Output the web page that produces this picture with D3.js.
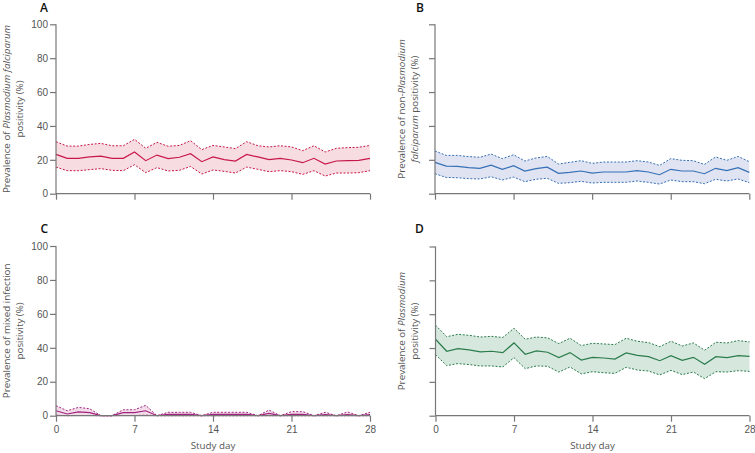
<!DOCTYPE html>
<html>
<head>
<meta charset="utf-8">
<script src="https://cdn.jsdelivr.net/npm/d3@7"></script>
<style>
  body { margin: 0; background: #fff; }
  svg { display: block; font-family: "Open Sans", "DejaVu Sans", sans-serif; }
  .tick text { fill: #555; font-size: 10px; }
  .axis path, .axis line { stroke: #777; stroke-width: 1.2; }
  .ylab { fill: #555; font-size: 9.8px; }
  .panel-letter { fill: #111; font-size: 12px; font-weight: 600; }
</style>
</head>
<body>
<div id="chart"></div>
<script>
const days = d3.range(0, 29);
const xTicks = [0, 7, 14, 21, 28];
const yTicks = [0, 20, 40, 60, 80, 100];

// A: P falciparum
const aMean = [23.2, 20.9, 20.9, 21.7, 22.2, 20.9, 20.9, 24.6, 19.5, 22.8, 20.7, 21.5, 23.6, 18.9, 21.7, 20.1, 19.3, 23.2, 21.7, 20.1, 20.9, 19.9, 18.3, 20.9, 17.5, 19.3, 19.5, 19.7, 20.9];
const aHigh = [30.7, 28.1, 28.1, 29.1, 29.7, 28.3, 28.3, 32.1, 26.8, 30.3, 28.0, 28.5, 31.3, 26.0, 28.5, 27.6, 26.6, 30.7, 28.3, 27.6, 28.3, 27.6, 25.4, 28.3, 24.6, 26.8, 27.2, 27.4, 28.5];
const aLow  = [15.7, 13.6, 13.6, 14.2, 14.8, 13.8, 13.6, 17.1, 12.4, 15.4, 13.4, 13.8, 16.1, 11.6, 14.0, 13.2, 12.2, 15.7, 14.4, 13.0, 13.6, 13.0, 11.4, 13.6, 10.4, 12.2, 12.2, 12.4, 13.6];

// B: non-P falciparum
const bMean = [18.5, 16.3, 16.1, 15.4, 15.0, 16.9, 14.4, 16.5, 13.4, 14.8, 15.7, 12.0, 12.6, 13.4, 12.2, 12.8, 12.8, 12.8, 13.6, 12.8, 11.2, 14.4, 13.4, 13.4, 11.8, 15.0, 13.6, 15.4, 12.6];
const bHigh = [25.2, 22.6, 22.6, 21.9, 21.5, 23.4, 20.7, 23.0, 19.3, 21.1, 22.0, 17.5, 18.5, 19.5, 17.9, 18.7, 18.7, 18.7, 19.5, 18.7, 16.7, 20.7, 19.7, 19.5, 17.3, 21.7, 19.7, 22.0, 18.9];
const bLow  = [11.8, 9.6, 9.4, 8.9, 8.7, 10.0, 8.1, 9.8, 7.1, 8.5, 9.1, 6.1, 6.5, 7.3, 6.3, 6.7, 6.7, 6.7, 7.5, 6.7, 5.7, 8.1, 7.1, 7.1, 5.9, 8.5, 7.5, 8.7, 6.5];

// C: mixed infection
const cMean = [2.9, 1.0, 2.2, 1.8, 0, 0, 1.8, 1.8, 2.9, 0, 0.8, 0.8, 0.8, 0, 0.8, 0.8, 0.8, 0.8, 0, 1.4, 0, 0.8, 0.8, 0, 0.6, 0, 0.6, 0, 0.6];
const cHigh = [5.9, 2.9, 4.9, 4.1, 0, 0, 3.5, 3.5, 6.1, 0, 2.0, 2.0, 2.0, 0, 2.0, 2.0, 2.0, 2.0, 0, 3.3, 0, 2.4, 2.4, 0, 2.0, 0, 2.2, 0, 2.0];
const cLow  = [0.3, 0, 0.1, 0.1, 0, 0, 0.1, 0.1, 0.3, 0, 0, 0, 0, 0, 0, 0, 0, 0, 0, 0, 0, 0, 0, 0, 0, 0, 0, 0, 0];

// D: any Plasmodium
const dMean = [45.2, 38.1, 39.6, 38.9, 37.7, 38.1, 37.3, 43.0, 36.3, 38.3, 37.5, 34.3, 37.3, 32.9, 34.5, 34.1, 33.5, 37.1, 35.7, 34.9, 32.5, 35.5, 32.7, 34.5, 30.4, 34.9, 34.3, 35.5, 35.1];
const dHigh = [53.5, 46.7, 48.1, 47.5, 46.5, 46.9, 46.2, 51.7, 45.2, 46.5, 46.0, 42.6, 45.8, 41.4, 42.8, 42.4, 42.0, 45.8, 44.0, 43.2, 40.8, 44.0, 41.2, 43.0, 38.7, 43.4, 43.0, 44.4, 43.6];
const dLow  = [36.1, 29.6, 30.8, 30.2, 29.4, 29.4, 28.8, 34.3, 27.8, 29.4, 29.2, 25.8, 28.8, 24.7, 26.0, 25.4, 25.0, 28.6, 27.0, 26.4, 24.1, 26.8, 24.3, 25.8, 21.9, 26.0, 25.8, 26.6, 26.2];

const W = 755, H = 453;
const svg = d3.select("#chart").append("svg").attr("width", W).attr("height", H);

const panels = [
  { letter: "A", mean: aMean, low: aLow, high: aHigh, color: "#c8184a", fill: "#f7dde1",
    x0: 56, x1: 370, y0: 193.7, y1: 24.3, tickLabels: true, xLabels: false,
    lx: 40, ly: 12, labX: [10, 23],
    lab: [[["Prevalence of ", false], ["Plasmodium falciparum", true]], [["positivity (%)", false]]] },
  { letter: "B", mean: bMean, low: bLow, high: bHigh, color: "#3670b6", fill: "#dfe3f2",
    x0: 435, x1: 749.3, y0: 193.7, y1: 24.3, tickLabels: false, xLabels: false,
    lx: 416, ly: 12, labX: [405, 418],
    lab: [[["Prevalence of non-", false], ["Plasmodium", true]], [["falciparum", true], [" positivity (%)", false]]] },
  { letter: "C", mean: cMean, low: cLow, high: cHigh, color: "#a3247f", fill: "#f2dcea",
    x0: 56, x1: 370, y0: 415.7, y1: 246, tickLabels: true, xLabels: true,
    lx: 40.5, ly: 233, labX: [10, 23],
    lab: [[["Prevalence of mixed infection", false]], [["positivity (%)", false]]] },
  { letter: "D", mean: dMean, low: dLow, high: dHigh, color: "#2b7c4d", fill: "#d6e8dd",
    x0: 435.5, x1: 749.5, y0: 415.7, y1: 246.5, tickLabels: false, xLabels: true,
    lx: 415, ly: 233, labX: [405, 418],
    lab: [[["Prevalence of ", false], ["Plasmodium", true]], [["positivity (%)", false]]] }
];

function drawPanel(p) {
  const x = d3.scaleLinear().domain([0, 28]).range([p.x0, p.x1]);
  const y = d3.scaleLinear().domain([0, 100]).range([p.y0, p.y1]);
  const g = svg.append("g");

  const band = days.map(d => ({ d, lo: p.low[d], hi: p.high[d], m: p.mean[d] }));

  g.append("path")
    .datum(band)
    .attr("fill", p.fill)
    .attr("d", d3.area().x(b => x(b.d)).y0(b => y(b.lo)).y1(b => y(b.hi)));

  ["lo", "hi"].forEach(k => {
    g.append("path")
      .datum(band)
      .attr("fill", "none")
      .attr("stroke", p.color)
      .attr("stroke-width", 1)
      .attr("stroke-dasharray", "2,1.6")
      .attr("d", d3.line().x(b => x(b.d)).y(b => y(b[k])));
  });

  g.append("path")
    .datum(band)
    .attr("fill", "none")
    .attr("stroke", p.color)
    .attr("stroke-width", 1.2)
    .attr("d", d3.line().x(b => x(b.d)).y(b => y(b.m)));

  const yAxis = d3.axisLeft(y).tickValues(yTicks).tickSize(6).tickPadding(2)
    .tickFormat(p.tickLabels ? d3.format("d") : () => "");
  g.append("g").attr("class", "axis")
    .attr("transform", `translate(${p.x0},0)`)
    .call(yAxis)
    .call(s => s.select(".domain").attr("d", `M0,${p.y0}V${p.y1}`));

  const xAxis = d3.axisBottom(x).tickValues(xTicks).tickSize(6).tickPadding(4)
    .tickFormat(p.xLabels ? d3.format("d") : () => "");
  g.append("g").attr("class", "axis")
    .attr("transform", `translate(0,${p.y0})`)
    .call(xAxis)
    .call(s => s.select(".domain").attr("d", `M${p.x0},0H${p.x1}`));

  if (p.xLabels) {
    g.append("text")
      .attr("class", "ylab")
      .attr("x", (p.x0 + p.x1) / 2)
      .attr("y", p.y0 + 33)
      .attr("text-anchor", "middle")
      .text("Study day");
  }

  const yc = (p.y0 + p.y1) / 2;
  p.lab.forEach((parts, i) => {
    const t = g.append("text")
      .attr("class", "ylab")
      .attr("text-anchor", "middle")
      .attr("transform", `translate(${p.labX[i]},${yc}) rotate(-90)`);
    parts.forEach(([s, it]) => {
      t.append("tspan").attr("font-style", it ? "italic" : null).text(s);
    });
  });

  svg.append("text")
    .attr("class", "panel-letter")
    .attr("x", p.lx)
    .attr("y", p.ly)
    .text(p.letter);
}

panels.forEach(drawPanel);
</script>
</body>
</html>
